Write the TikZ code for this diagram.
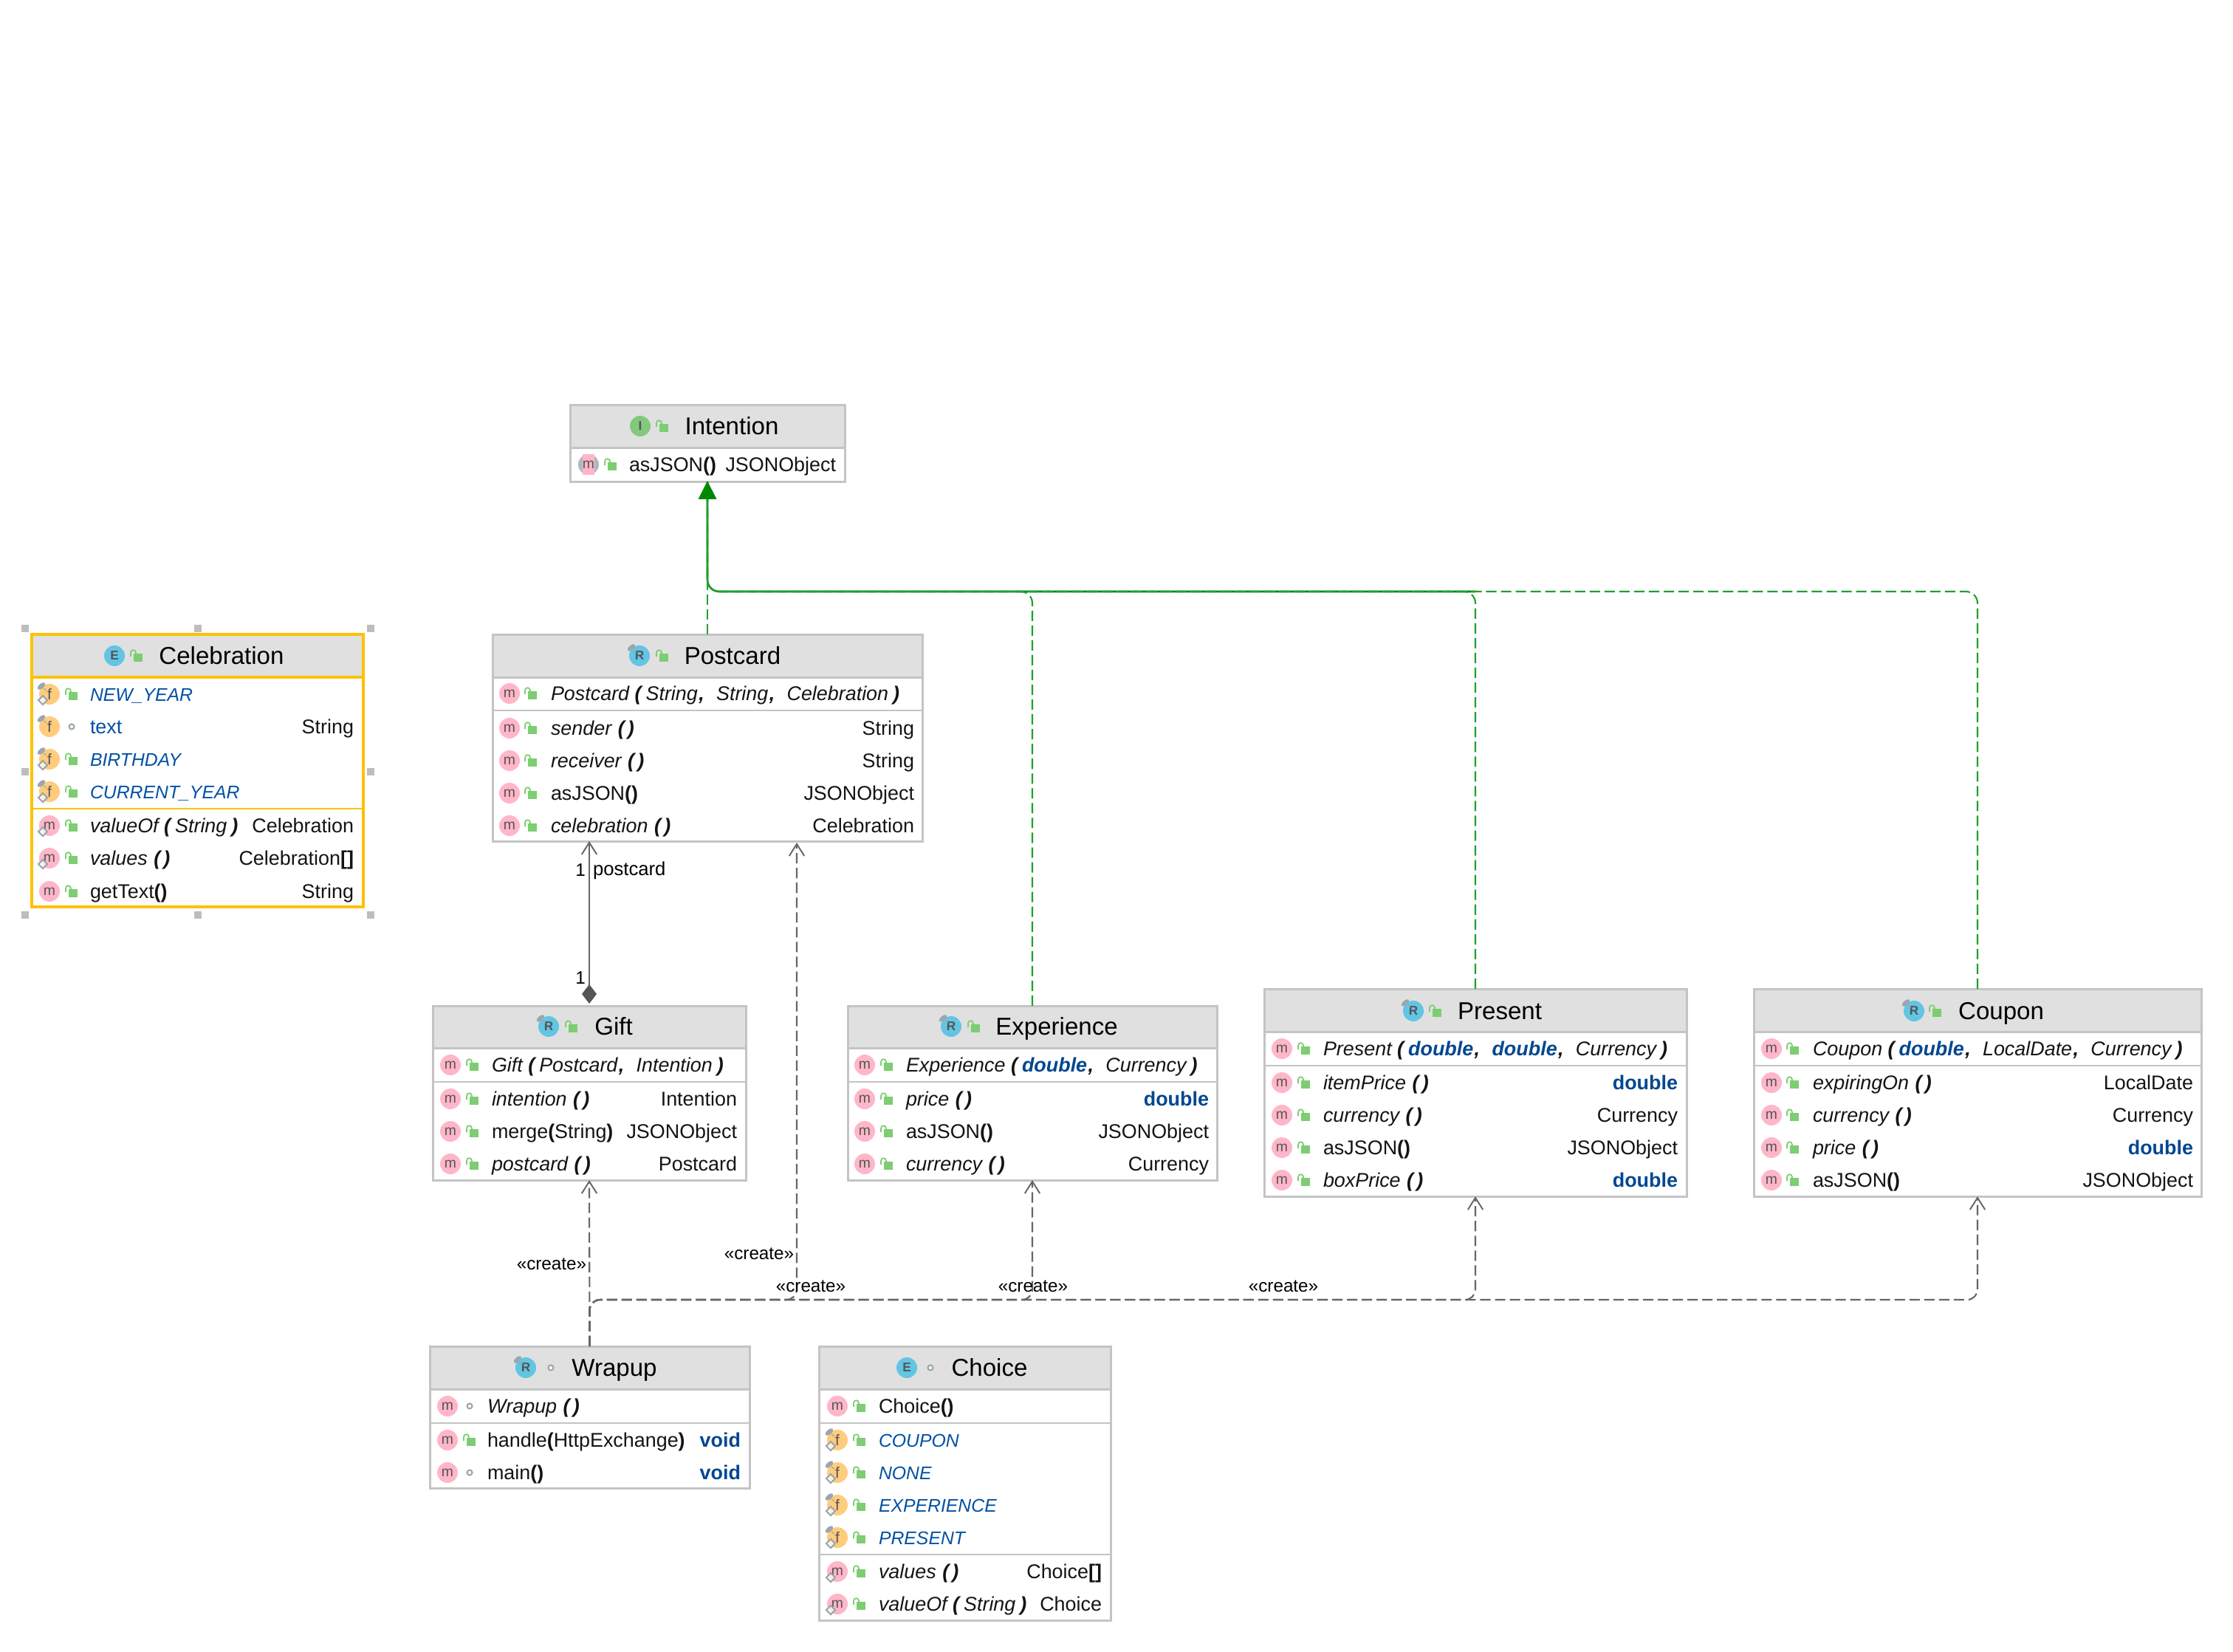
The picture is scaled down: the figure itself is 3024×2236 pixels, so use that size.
\documentclass[tikz,border=0pt]{standalone}
\usepackage{fontspec}
\setmainfont{Liberation Sans}
\usetikzlibrary{arrows.meta}
\definecolor{hdrc}{HTML}{E0E0E0}
\definecolor{bordc}{HTML}{C4C4C4}
\definecolor{selc}{HTML}{FCC200}
\definecolor{pinkc}{HTML}{FFB6C8}
\definecolor{orangec}{HTML}{FFCB7D}
\definecolor{bluec}{HTML}{62C5E3}
\definecolor{ifacec}{HTML}{83C97D}
\definecolor{lockc}{HTML}{7DCD72}
\definecolor{pinc}{HTML}{9AA7B0}
\definecolor{fieldc}{HTML}{0050A5}
\definecolor{kwc}{HTML}{00478F}
\definecolor{glyphc}{HTML}{555555}
\definecolor{depc}{HTML}{666666}
\definecolor{realc}{HTML}{1FA02F}
\definecolor{trunkc}{HTML}{008800}
\definecolor{handlec}{HTML}{BDBDBD}
\newcounter{tn}
\tikzset{
  rowtxt/.style={inner sep=0pt,outer sep=0pt,text=black!92,font=\fontsize{7.65}{9}\selectfont},
  titletxt/.style={inner sep=0pt,outer sep=0pt,text=black,anchor=base,font=\fontsize{9.4}{11}\selectfont},
  lbltxt/.style={inner sep=0pt,outer sep=0pt,text=black,font=\fontsize{6.9}{8}\selectfont},
  namelbl/.style={inner sep=0pt,outer sep=0pt,text=black,font=\fontsize{7.3}{8}\selectfont},
  glyph/.style={inner sep=0pt,outer sep=0pt,text=glyphc,font=\fontsize{5.5}{7}\selectfont},
  glyphf/.style={inner sep=0pt,outer sep=0pt,text=glyphc,font=\fontsize{5.9}{7}\selectfont},
  glyphk/.style={inner sep=0pt,outer sep=0pt,text=glyphc,font=\bfseries\fontsize{4.9}{6}\selectfont},
  umlbox/.style={inner sep=0pt,outer sep=0pt,fill=white},
  dep/.style={depc,line width=0.6pt,dash pattern=on 4pt off 1.7pt,rounded corners=4pt},
  realiz/.style={realc,line width=0.6pt,dash pattern=on 4pt off 1.7pt,rounded corners=4.5pt},
  trunk/.style={trunkc,line width=0.75pt,rounded corners=4.5pt},
  openhead/.style={-{Straight Barb[length=4.6pt,width=5.8pt,line width=0.55pt]}},
  fullhead/.style={-{Triangle[length=6.8pt,width=6.8pt,fill=trunkc,color=trunkc]}},
}
% box: name x1 y1 x2 y2 headerbottom, border colour, border width
\newcommand\umlBox[8]{%
  \node[umlbox,minimum width={(#4-#2)*0.01cm},minimum height={(#5-#3)*0.01cm}] (#1) at ({(#2+#4)/2},{(#3+#5)/2}) {};
  \fill[hdrc] (#2,#3) rectangle (#4,#6);
  \def\curB{#7}\def\curW{#8}\def\curL{#2}\def\curRr{#4}%
  \draw[#7,line width=#8] (#2,#6) -- (#4,#6);
}
\newcommand\umlSep[1]{\draw[\curB,line width=0.6pt] (\curL,#1) -- (\curRr,#1);}
\newcommand\umlFrame[1]{\draw[\curB,line width=\curW] (#1.south west) rectangle (#1.north east);}
% icons
\newcommand\gl[4][glyph]{\stepcounter{tn}\node[#1] (n\arabic{tn}) at (#2,#3) {#4};}
\newcommand\pinmark[2]{\fill[pinc,rotate around={40:(#1-11,#2-11)}] (#1-11,#2-11) ellipse (6.5 and 3.2);
  \draw[pinc,line width=0.3pt] (#1-8,#2-8) -- (#1-4,#2-5);}
\newcommand\diamark[2]{\draw[pinc,line width=0.6pt,fill=white,fill opacity=0.7] (#1-9,#2+2) -- (#1-3,#2+8) -- (#1-9,#2+14) -- (#1-15,#2+8) -- cycle;}
\newcommand\km[2]{\fill[pinkc] (#1,#2) circle (14); \gl{#1}{#2}{m}}
\newcommand\kms[2]{\fill[pinkc] (#1,#2) circle (14); \gl{#1}{#2}{m}\diamark{#1}{#2}}
\newcommand\kma[2]{\fill[pinc!80] (#1,#2) circle (14); \fill[pinkc] (#1-8,#2-14) rectangle (#1+8,#2+14); \gl{#1}{#2}{m}}
\newcommand\kfp[2]{\fill[orangec] (#1,#2) circle (14); \gl[glyphf]{#1}{#2}{f}\pinmark{#1}{#2}\diamark{#1}{#2}}
\newcommand\kfo[2]{\fill[orangec] (#1,#2) circle (14); \gl[glyphf]{#1}{#2}{f}\pinmark{#1}{#2}}
\newcommand\klock[2]{\fill[lockc] (#1-4,#2-3) rectangle (#1+8,#2+8);
  \draw[lockc,line width=0.5pt] (#1-8,#2+1) -- (#1-8,#2-4) .. controls (#1-8,#2-9) and (#1-1,#2-9) .. (#1-1,#2-4) -- (#1-1,#2-2);}
\newcommand\kdot[2]{\draw[pinc,line width=0.6pt,fill=white] (#1,#2) circle (3.5);}
\newcommand\tIcon[5]{% x y colour letter pin?
  \fill[#3] (#1,#2) circle (14); \gl[glyphk]{#1}{#2}{#4}\ifnum#5=1 \pinmark{#1}{#2}\fi}
\newcommand\tTitle[3]{\stepcounter{tn}\node[titletxt] (n\arabic{tn}) at (#1,#2+11) {#3};}
% rows
\newcommand\R[5]{#1{\ix}{#3}#2{\lx}{#3}\stepcounter{tn}\node[rowtxt,anchor=base west] (n\arabic{tn}) at (\tx,#3+9) {#4};\RRight{#3}{#5}}
\newcommand\RRight[2]{\stepcounter{tn}\node[rowtxt,anchor=base east] (n\arabic{tn}) at (\rx,#1+9) {#2};}
\newcommand\Rn[4]{#1{\ix}{#3}#2{\lx}{#3}\stepcounter{tn}\node[rowtxt,anchor=base west] (n\arabic{tn}) at (\tx,#3+9) {#4};}
\newcommand\lp{\textbf{(}\hspace{1.7pt}}
\newcommand\rp{\hspace{1.7pt}\textbf{)}}
\newcommand\emp{\hspace{0.3pt}\textbf{(}\hspace{1.2pt}\textbf{)}}
\newcommand\cmb{\hspace{0.4pt}\textbf{,}\ \ \hspace{0.4pt}}
\newcommand\nop{\textbf{()}}
\newcommand\dbl{\textcolor{kwc}{\textbf{double}}}
\newcommand\vd{\textcolor{kwc}{\textbf{void}}}
\newcommand\fld[1]{\textcolor{fieldc}{\fontsize{7.05}{9}\selectfont\itshape #1}}
\newcommand\lab[3]{\stepcounter{tn}\node[lbltxt] (n\arabic{tn}) at (#1,#2) {#3};}
\begin{document}
\begin{tikzpicture}[x=0.01cm,y=-0.01cm]
\useasboundingbox[fill=white] (0,0) rectangle (3024,2236);
% ---------- Intention
\umlBox{intention}{772}{548}{1144}{652}{606}{bordc}{0.85pt}
\tIcon{867}{577}{ifacec}{I}{0}\klock{897}{577}\tTitle{991}{577}{Intention}
\def\ix{797}\def\lx{827}\def\tx{852}\def\rx{1132}
\R{\kma}{\klock}{629}{asJSON\nop}{JSONObject}
\umlFrame{intention}
% ---------- Celebration
\foreach \hx in {34,268,502}{\foreach \hy in {851,1045,1239}{
  \ifnum\hx=268 \ifnum\hy=1045 \else \fill[handlec] (\hx-5,\hy-5) rectangle (\hx+5,\hy+5);\fi
  \else \fill[handlec] (\hx-5,\hy-5) rectangle (\hx+5,\hy+5);\fi }}
\umlBox{celebration}{43}{859}{492}{1228}{917}{selc}{1.1pt}
\tIcon{155}{888}{bluec}{E}{0}\klock{185}{888}\tTitle{300}{888}{Celebration}
\def\ix{67}\def\lx{97}\def\tx{122}\def\rx{479}
\Rn{\kfp}{\klock}{940}{\fld{NEW\_YEAR}}
\R{\kfo}{\kdot}{984}{\textcolor{fieldc}{text}}{String}
\Rn{\kfp}{\klock}{1028}{\fld{BIRTHDAY}}
\Rn{\kfp}{\klock}{1072}{\fld{CURRENT\_YEAR}}
\umlSep{1095}
\R{\kms}{\klock}{1118}{{\itshape valueOf \lp String\rp}}{Celebration}
\R{\kms}{\klock}{1162}{{\itshape values \emp}}{Celebration\textbf{[]}}
\R{\km}{\klock}{1207}{getText\nop}{String}
\umlFrame{celebration}
% ---------- Postcard
\umlBox{postcard}{667}{859}{1249}{1139}{917}{bordc}{0.85pt}
\tIcon{866}{888}{bluec}{R}{1}\klock{897}{888}\tTitle{992}{888}{Postcard}
\def\ix{690}\def\lx{719}\def\tx{746}\def\rx{1238}
\Rn{\km}{\klock}{939}{{\itshape Postcard \lp String\cmb String\cmb Celebration\rp}}
\umlSep{962}
\R{\km}{\klock}{986}{{\itshape sender \emp}}{String}
\R{\km}{\klock}{1030}{{\itshape receiver \emp}}{String}
\R{\km}{\klock}{1074}{asJSON\nop}{JSONObject}
\R{\km}{\klock}{1118}{{\itshape celebration \emp}}{Celebration}
\umlFrame{postcard}
% ---------- Gift
\umlBox{gift}{586}{1362}{1010}{1598}{1419}{bordc}{0.85pt}
\tIcon{743}{1390}{bluec}{R}{1}\klock{774}{1390}\tTitle{831}{1390}{Gift}
\def\ix{610}\def\lx{640}\def\tx{666}\def\rx{998}
\Rn{\km}{\klock}{1442}{{\itshape Gift \lp Postcard\cmb Intention\rp}}
\umlSep{1465}
\R{\km}{\klock}{1488}{{\itshape intention \emp}}{Intention}
\R{\km}{\klock}{1532}{merge\textbf{(}String\textbf{)}}{JSONObject}
\R{\km}{\klock}{1576}{{\itshape postcard \emp}}{Postcard}
\umlFrame{gift}
% ---------- Experience
\umlBox{experience}{1148}{1362}{1648}{1598}{1419}{bordc}{0.85pt}
\tIcon{1288}{1390}{bluec}{R}{1}\klock{1319}{1390}\tTitle{1431}{1390}{Experience}
\def\ix{1171}\def\lx{1201}\def\tx{1227}\def\rx{1637}
\Rn{\km}{\klock}{1442}{{\itshape Experience \lp \dbl\cmb Currency\rp}}
\umlSep{1465}
\R{\km}{\klock}{1488}{{\itshape price \emp}}{\dbl}
\R{\km}{\klock}{1532}{asJSON\nop}{JSONObject}
\R{\km}{\klock}{1576}{{\itshape currency \emp}}{Currency}
\umlFrame{experience}
% ---------- Present
\umlBox{present}{1712}{1339}{2284}{1620}{1397}{bordc}{0.85pt}
\tIcon{1914}{1369}{bluec}{R}{1}\klock{1944}{1369}\tTitle{2031}{1369}{Present}
\def\ix{1736}\def\lx{1766}\def\tx{1792}\def\rx{2272}
\Rn{\km}{\klock}{1420}{{\itshape Present \lp \dbl\cmb \dbl\cmb Currency\rp}}
\umlSep{1443}
\R{\km}{\klock}{1466}{{\itshape itemPrice \emp}}{\dbl}
\R{\km}{\klock}{1510}{{\itshape currency \emp}}{Currency}
\R{\km}{\klock}{1554}{asJSON\nop}{JSONObject}
\R{\km}{\klock}{1598}{{\itshape boxPrice \emp}}{\dbl}
\umlFrame{present}
% ---------- Coupon
\umlBox{coupon}{2375}{1339}{2981}{1620}{1397}{bordc}{0.85pt}
\tIcon{2592}{1369}{bluec}{R}{1}\klock{2621}{1369}\tTitle{2710}{1369}{Coupon}
\def\ix{2399}\def\lx{2428}\def\tx{2455}\def\rx{2970}
\Rn{\km}{\klock}{1420}{{\itshape Coupon \lp \dbl\cmb LocalDate\cmb Currency\rp}}
\umlSep{1443}
\R{\km}{\klock}{1466}{{\itshape expiringOn \emp}}{LocalDate}
\R{\km}{\klock}{1510}{{\itshape currency \emp}}{Currency}
\R{\km}{\klock}{1554}{{\itshape price \emp}}{\dbl}
\R{\km}{\klock}{1598}{asJSON\nop}{JSONObject}
\umlFrame{coupon}
% ---------- Wrapup
\umlBox{wrapup}{582}{1823}{1015}{2015}{1881}{bordc}{0.85pt}
\tIcon{712}{1852}{bluec}{R}{1}\kdot{746}{1852}\tTitle{832}{1852}{Wrapup}
\def\ix{606}\def\lx{636}\def\tx{660}\def\rx{1003}
\Rn{\km}{\kdot}{1904}{{\itshape Wrapup \emp}}
\umlSep{1927}
\R{\km}{\klock}{1950}{handle\textbf{(}HttpExchange\textbf{)}}{\vd}
\R{\km}{\kdot}{1994}{main\nop}{\vd}
\umlFrame{wrapup}
% ---------- Choice
\umlBox{choice}{1109}{1823}{1504}{2194}{1881}{bordc}{0.85pt}
\tIcon{1228}{1852}{bluec}{E}{0}\kdot{1260}{1852}\tTitle{1340}{1852}{Choice}
\def\ix{1134}\def\lx{1164}\def\tx{1190}\def\rx{1492}
\Rn{\km}{\klock}{1904}{Choice\nop}
\umlSep{1927}
\Rn{\kfp}{\klock}{1950}{\fld{COUPON}}
\Rn{\kfp}{\klock}{1994}{\fld{NONE}}
\Rn{\kfp}{\klock}{2038}{\fld{EXPERIENCE}}
\Rn{\kfp}{\klock}{2082}{\fld{PRESENT}}
\umlSep{2105}
\R{\kms}{\klock}{2128}{{\itshape values \emp}}{Choice\textbf{[]}}
\R{\kms}{\klock}{2172}{{\itshape valueOf \lp String\rp}}{Choice}
\umlFrame{choice}
% ---------- routing points
\coordinate (greenbus) at (958,801);
\coordinate (gE) at (experience.north |- greenbus);
\coordinate (gP) at (present.north |- greenbus);
\coordinate (gC) at (coupon.north |- greenbus);
\coordinate (bus) at (wrapup.north |- 0,1760);
\coordinate (bP) at (1079,1760);
\coordinate (pcIn) at (1079,1141);
\coordinate (bE) at (experience.south |- bus);
\coordinate (bR) at (present.south |- bus);
\coordinate (bC) at (coupon.south |- bus);
% ---------- realizations
\draw[trunk] (gP) -- (greenbus) -- (intention.south);
\draw[realiz,fullhead] (postcard.north) -- (intention.south);
\draw[realiz,fullhead] (experience.north) -- (gE) -- (greenbus) -- (intention.south);
\draw[realiz,fullhead] (present.north) -- (gP) -- (greenbus) -- (intention.south);
\draw[realiz,fullhead] (coupon.north) -- (gC) -- (greenbus) -- (intention.south);
% ---------- composition
\draw[depc,line width=0.7pt,openhead] (gift.north) ++(0,-28) -- (postcard.south -| gift.north);
\fill[glyphc] (gift.north) ++(0,-3) -- ++(10,-13) -- ++(-10,-13) -- ++(-10,13) -- cycle;
\lab{786}{1178}{1}
\node[namelbl,anchor=west] (pclabel) at (803,1179) {postcard};
\lab{786}{1324}{1}
% ---------- dependencies
\draw[dep,openhead] (wrapup.north) -- (gift.south);
\draw[dep,openhead] (wrapup.north) -- (bus) -- (bP) -- (pcIn);
\draw[dep,openhead] (wrapup.north) -- (bus) -- (bE) -- (experience.south);
\draw[dep,openhead] (wrapup.north) -- (bus) -- (bR) -- (present.south);
\draw[dep,openhead] (wrapup.north) -- (bus) -- (bC) -- (coupon.south);
\lab{747}{1712}{«create»}
\lab{1028}{1698}{«create»}
\lab{1098}{1742}{«create»}
\lab{1399}{1742}{«create»}
\lab{1738}{1742}{«create»}
\end{tikzpicture}
\end{document}
